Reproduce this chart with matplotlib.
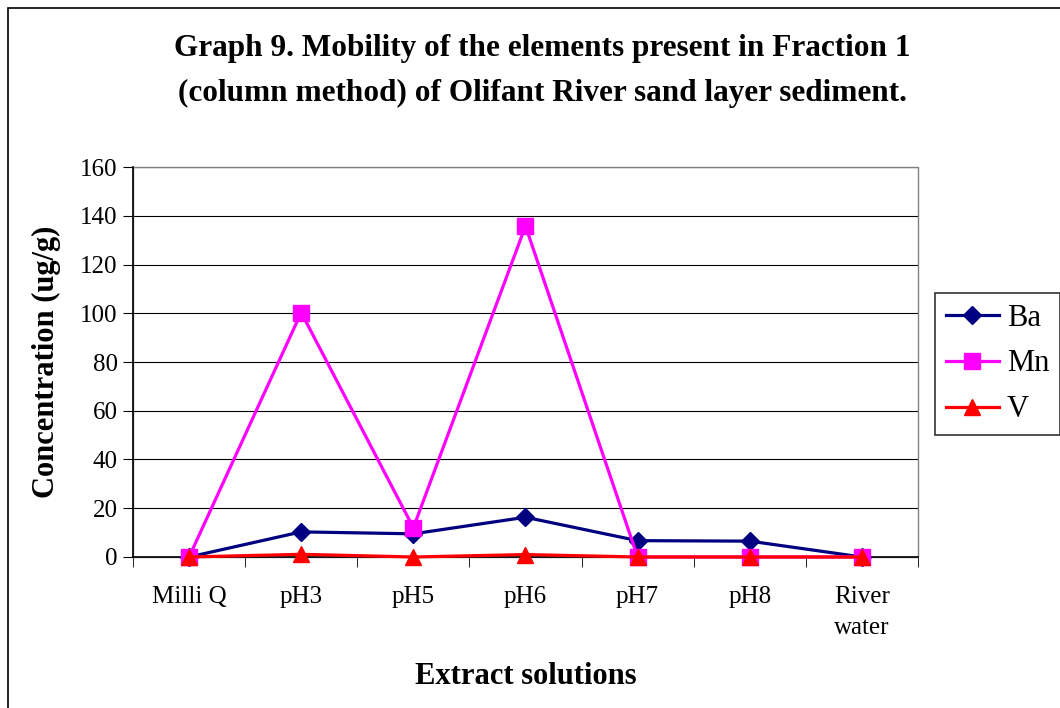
import matplotlib.pyplot as plt
from matplotlib import patches
import numpy as np

plt.rcParams['font.family'] = ['Liberation Serif', 'DejaVu Serif']

categories = ['Milli Q', 'pH3', 'pH5', 'pH6', 'pH7', 'pH8', 'River\nwater']
ba = [0, 10.3, 9.5, 16.3, 6.7, 6.5, 0]
mn = [0, 100.3, 12.0, 135.8, 0, 0, 0]
v = [0, 1.1, 0, 1.0, 0, 0, 0]

fig = plt.figure(figsize=(10.6, 7.08), dpi=100)
ax = fig.add_axes([0.1255, 0.2133, 0.7405, 0.5508])

# рамка вокруг всей диаграммы
fig.patches.append(patches.Rectangle((8 / 1060, -0.01), 1.1, 1 - 8 / 708 + 0.01,
                                     transform=fig.transFigure, fill=False,
                                     edgecolor='black', linewidth=1.2))

x = np.arange(len(categories))
ax.plot(x, ba, color='#000080', marker='D', markersize=9.5, linewidth=2.3,
        label='Ba', clip_on=False, zorder=4)
ax.plot(x, mn, color='#FF00FF', marker='s', markersize=11, linewidth=2.3,
        label='Mn', clip_on=False, zorder=5)
ax.plot(x, v, color='#FF0000', marker='^', markersize=11, linewidth=2.3,
        label='V', clip_on=False, zorder=6)

ax.set_xlim(-0.5, len(categories) - 0.5)
ax.set_ylim(0, 160)
ax.set_yticks(np.arange(0, 161, 20))
ax.set_xticks(x)
ax.set_xticklabels(categories, fontsize=18, linespacing=1.5)
ax.tick_params(axis='x', length=0, pad=21)
ax.set_xticks(np.arange(-0.5, len(categories), 1), minor=True)
ax.tick_params(axis='x', which='minor', length=7, direction='out')
ax.tick_params(axis='y', labelsize=18, length=7, direction='out', pad=4)
ax.grid(axis='y', color='black', linewidth=0.8)
ax.set_axisbelow(True)
ax.spines['top'].set_visible(False)
ax.spines['right'].set_visible(False)
for s in ['left', 'bottom']:
    ax.spines[s].set_linewidth(1.2)

ax.set_xlabel('Extract solutions', fontsize=22, fontweight='bold', labelpad=17)
ax.set_ylabel('Concentration (ug/g)', fontsize=22, fontweight='bold', labelpad=14)

fig.text(0.512, 0.9,
         'Graph 9. Mobility of the elements present in Fraction 1\n'
         '(column method) of Olifant River sand layer sediment.',
         ha='center', va='center', fontsize=22.5, fontweight='bold', linespacing=1.7)

# рамка области построения
ax.add_patch(patches.Rectangle((0, 0), 1, 1, transform=ax.transAxes, fill=False,
                               edgecolor='gray', linewidth=1, clip_on=False))

leg = fig.legend(loc='upper left', bbox_to_anchor=(935 / 1060, 1 - 293 / 708),
                 fontsize=22, frameon=True, fancybox=False, edgecolor='black',
                 handlelength=1.75, borderpad=0.35, labelspacing=0.55, handletextpad=0.25,
                 borderaxespad=0)
leg.get_frame().set_linewidth(1.2)

fig.savefig('out.png', dpi=100)
